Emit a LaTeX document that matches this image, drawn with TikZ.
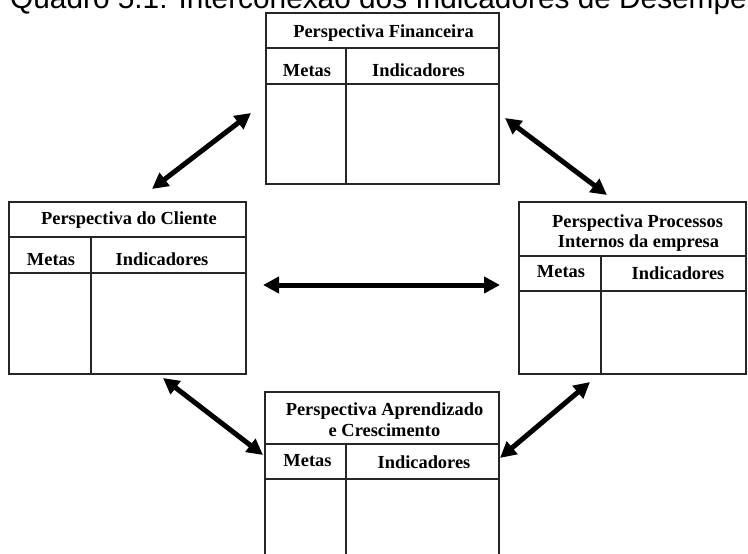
\documentclass[tikz,border=0pt]{standalone}
\usepackage{fontspec}
\setmainfont{Liberation Serif}
\newfontfamily\titlefont{Liberation Sans}
\usetikzlibrary{arrows.meta}
\begin{document}
\begin{tikzpicture}[x=1pt,y=-1pt,
  frame/.style={draw=black!85, line width=1.2pt},
  boxnode/.style={frame, anchor=north west, inner sep=0pt, outer sep=0pt},
  head/.style={font=\bfseries\fontsize{18.4}{21}\selectfont, anchor=base, inner sep=0pt},
  biarrow/.style={line width=5pt, {Triangle[length=16pt,width=16pt]}-{Triangle[length=16pt,width=16pt]}}
]
\useasboundingbox (0,0) rectangle (748,554);
\clip (0,0) rectangle (748,554);

% title (cut off at the top and right edge, as in the reference)
\node[anchor=base west, inner sep=0pt, font=\titlefont\fontsize{29.8}{34}\selectfont] (title) at (10,8.5) {Quadro 5.1: Interconexão dos Indicadores de Desempe};

% Perspectiva Financeira
\node[boxnode, minimum width=233pt, minimum height=171pt] (fin) at (266,13) {};
\draw[frame] (266,48) -- (499,48);
\draw[frame] (266,84) -- (499,84);
\draw[frame] (346,48) -- (346,184);
\node[head] (finT) at (383.5,37) {Perspectiva Financeira};
\node[head] (finM) at (307,76) {Metas};
\node[head] (finI) at (418.5,76) {Indicadores};

% Perspectiva do Cliente
\node[boxnode, minimum width=237pt, minimum height=172pt] (cli) at (9,202) {};
\draw[frame] (9,237) -- (246,237);
\draw[frame] (9,273) -- (246,273);
\draw[frame] (91,237) -- (91,374);
\node[head] (cliT) at (129,224) {Perspectiva do Cliente};
\node[head] (cliM) at (51,265) {Metas};
\node[head] (cliI) at (162,265) {Indicadores};

% Perspectiva Processos Internos
\node[boxnode, minimum width=227pt, minimum height=172pt] (pro) at (519,202) {};
\draw[frame] (519,256) -- (746,256);
\draw[frame] (519,291) -- (746,291);
\draw[frame] (601,256) -- (601,374);
\node[head] (proT1) at (637.5,227) {Perspectiva Processos};
\node[head] (proT2) at (638.5,247) {Internos da empresa};
\node[head] (proM) at (561,277) {Metas};
\node[head] (proI) at (678,279) {Indicadores};

% Perspectiva Aprendizado e Crescimento
\node[boxnode, minimum width=234pt, minimum height=180pt] (apr) at (265,392) {};
\draw[frame] (265,444) -- (499,444);
\draw[frame] (265,479) -- (499,479);
\draw[frame] (346,444) -- (346,572);
\node[head] (aprT1) at (384.5,415) {Perspectiva Aprendizado};
\node[head] (aprT2) at (384.5,436) {e Crescimento};
\node[head] (aprM) at (307.5,466) {Metas};
\node[head] (aprI) at (424,468) {Indicadores};

% arrow end points
\coordinate (a1s) at (152,189);
\coordinate (a1e) at (251,113);
\coordinate (a2s) at (505,118);
\coordinate (a2e) at (607,195);
\coordinate (a3s) at (263,285);
\coordinate (a3e) at (500,285);
\coordinate (a4s) at (163,378);
\coordinate (a4e) at (263,455);
\coordinate (a5s) at (590,382);
\coordinate (a5e) at (500,458);

\draw[biarrow] (a1s) -- (a1e);
\draw[biarrow] (a2s) -- (a2e);
\draw[biarrow] (a3s) -- (a3e);
\draw[biarrow] (a4s) -- (a4e);
\draw[biarrow] (a5s) -- (a5e);
\end{tikzpicture}
\end{document}
